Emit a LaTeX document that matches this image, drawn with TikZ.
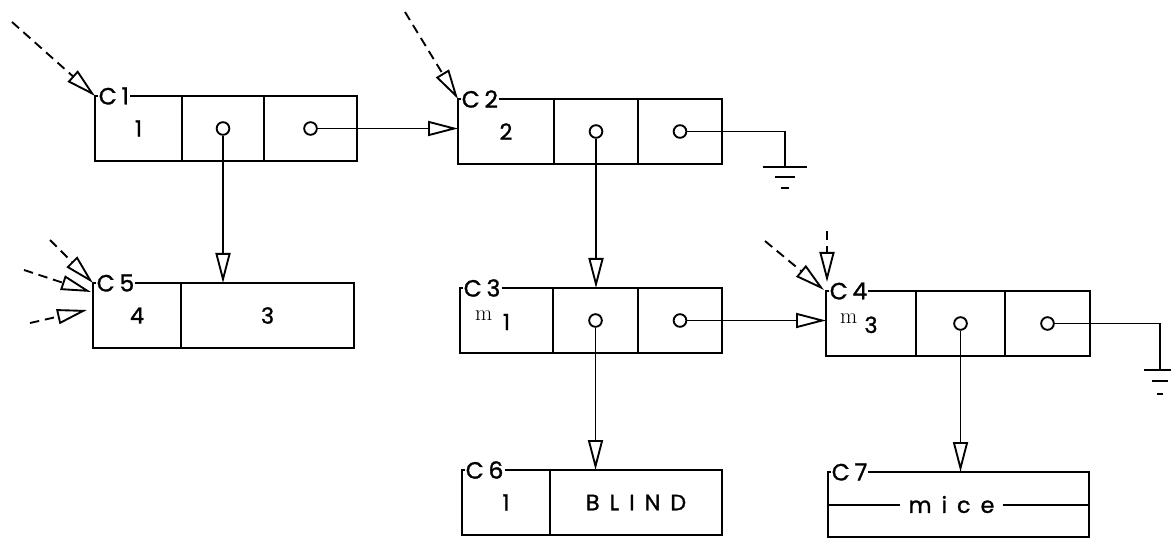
\documentclass[tikz,border=0pt]{standalone}
\usepackage{fontspec}
\setsansfont{Poppins}
\newfontfamily\cellname[LetterSpace=20, FakeBold=1.2]{Poppins}
\newfontfamily\spaced[LetterSpace=45, FakeBold=1.2]{Poppins}
\newfontfamily\plain[FakeBold=1.2]{Poppins}
\usetikzlibrary{arrows.meta,positioning}

\begin{document}
\begin{tikzpicture}[
  x=0.03cm, y=-0.03cm,
  cell/.style={draw, line width=1.9pt, minimum height=1.95cm, inner sep=0pt, outer sep=0pt, font=\plain\fontsize{19}{22}\selectfont},
  cname/.style={fill=white, inner sep=1pt, font=\cellname\fontsize{20}{22}\selectfont},
  hole/.style={circle, draw, line width=1.6pt, minimum size=0.38cm, inner sep=0pt, fill=white},
  ptr/.style={line width=1.6pt, -{Triangle[open, length=0.9cm, width=0.45cm, line width=1.6pt]}},
  ext/.style={ptr, dash pattern=on 8pt off 5pt},
  wire/.style={line width=1.7pt}
]
  \useasboundingbox (0,0) rectangle (1171,538);

  % cells, left to right, top to bottom
  \node[cell, anchor=north west, minimum width=2.61cm] (c1a) at (95,96) {1};
  \node[cell, right=0pt of c1a, minimum width=2.46cm] (c1b) {};
  \node[cell, right=0pt of c1b, minimum width=2.79cm] (c1c) {};

  \node[cell, anchor=north west, minimum width=2.88cm] (c2a) at (458,99) {2};
  \node[cell, right=0pt of c2a, minimum width=2.52cm] (c2b) {};
  \node[cell, right=0pt of c2b, minimum width=2.52cm] (c2c) {};

  \node[cell, anchor=north west, minimum width=2.64cm] (c5a) at (93,283) {4};
  \node[cell, right=0pt of c5a, minimum width=5.19cm] (c5b) {3};

  \node[cell, anchor=north west, minimum width=2.79cm] (c3a) at (460,288)
    {\llap{\raisebox{8pt}{\rmfamily\fontsize{19}{20}\selectfont m}\hspace{9pt}}1};
  \node[cell, right=0pt of c3a, minimum width=2.55cm] (c3b) {};
  \node[cell, right=0pt of c3b, minimum width=2.52cm] (c3c) {};

  \node[cell, anchor=north west, minimum width=2.70cm] (c4a) at (826,291)
    {\llap{\raisebox{8pt}{\rmfamily\fontsize{19}{20}\selectfont m}\hspace{6pt}}3};
  \node[cell, right=0pt of c4a, minimum width=2.67cm] (c4b) {};
  \node[cell, right=0pt of c4b, minimum width=2.55cm] (c4c) {};

  \node[cell, anchor=north west, minimum width=2.64cm] (c6a) at (462,470) {1};
  \node[cell, right=0pt of c6a, minimum width=5.16cm] (c6b) {\spaced BLIND};

  \node[cell, anchor=north west, minimum width=7.83cm] (c7) at (828,472) {};
  \node[font=\spaced\fontsize{19}{22}\selectfont, minimum width=3.06cm, inner sep=0pt]
    (mice) at ([xshift=-6]c7.center) {mice};
  \draw[wire] (c7.west) -- (mice.west);
  \draw[wire] (mice.east) -- (c7.east);

  % cell names
  \node[cname, right=2pt of c1a.north west] (n1) {C1};
  \node[cname, right=2pt of c2a.north west] (n2) {C2};
  \node[cname, right=2pt of c5a.north west] (n5) {C5};
  \node[cname, right=2pt of c3a.north west] (n3) {C3};
  \node[cname, right=2pt of c4a.north west] (n4) {C4};
  \node[cname, right=2pt of c6a.north west] (n6) {C6};
  \node[cname, right=2pt of c7.north west] (n7) {C7};

  % pointer fields
  \node[hole] (p1b) at (c1b) {};
  \node[hole] (p1c) at (c1c) {};
  \node[hole] (p2b) at (c2b) {};
  \node[hole] (p2c) at (c2c) {};
  \node[hole] (p3b) at (c3b) {};
  \node[hole] (p3c) at (c3c) {};
  \node[hole] (p4b) at (c4b) {};
  \node[hole] (p4c) at (c4c) {};

  % links
  \draw[ptr] (p1b) -- (p1b |- c5b.north);
  \draw[ptr] (p1c) -- (p1c -| c2a.west);
  \draw[ptr] (p2b) -- (p2b |- c3b.north);
  \draw[ptr] (p3b) -- (p3b |- c6b.north);
  \draw[ptr] (p3c) -- (p3c -| c4a.west);
  \draw[ptr] (p4b) -- (p4b |- c7.north);

  % nil ends
  \coordinate (g1) at (785,167);
  \coordinate (g2) at (1160,370);
  \draw[wire] (p2c) -| (g1);
  \draw[wire] ([xshift=-19]g1) -- ([xshift=19]g1);
  \draw[wire] ([shift={(-10,10)}]g1) -- ([shift={(10,10)}]g1);
  \draw[wire] ([shift={(-4,21)}]g1) -- ([shift={(4,21)}]g1);
  \draw[wire] (p4c) -| (g2);
  \draw[wire] ([xshift=-14]g2) -- ([xshift=14]g2);
  \draw[wire] ([shift={(-8,11)}]g2) -- ([shift={(8,11)}]g2);
  \draw[wire] ([shift={(-3,24)}]g2) -- ([shift={(3,24)}]g2);

  % outside references
  \coordinate (r1) at (12,22);
  \coordinate (r2) at (405,12);
  \coordinate (r5a) at (50,240);
  \coordinate (r5b) at (24,270);
  \coordinate (r5c) at (30,323);
  \coordinate (r4a) at (765,241);
  \coordinate (r4b) at (827,231);
  \draw[ext] (r1) -- (c1a.north west);
  \draw[ext] (r2) -- (c2a.north west);
  \draw[ext] (r5a) -- (c5a.north west);
  \draw[ext] (r5b) -- ([shift={(-2,9)}]c5a.north west);
  \draw[ext] (r5c) -- ([shift={(-6,27)}]c5a.north west);
  \draw[ext] (r4a) -- ([shift={(-2,-1)}]c4a.north west);
  \draw[ext] (r4b) -- ([shift={(1,-9)}]c4a.north west);
\end{tikzpicture}
\end{document}
